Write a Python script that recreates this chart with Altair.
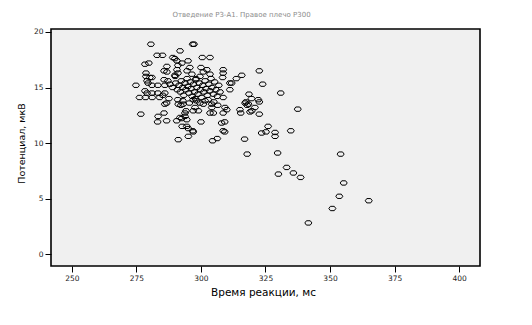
import altair as alt
import pandas as pd

# Время реакции (мс)
xs = [
    322.6, 323.9, 330.9, 337.5, 334.8, 328.7, 328.7, 326.0, 323.5, 325.2, 316.9, 317.9, 329.7,
    333.2, 330.0, 335.8, 338.6, 354.1, 355.3, 353.6, 365.0, 350.9, 341.6,
    313.7, 315.8, 311.2, 311.9, 311.2, 317.4, 318.6, 319.6, 322.6, 322.6, 319.0, 315.4, 309.2, 309.2, 317.9,
    315.1, 317.1, 318.4, 319.7, 320.9, 322.2,
    308.6, 308.6, 308.4, 300.5, 303.5, 295.7, 300.9, 303.5, 299.6, 298.1, 296.8, 297.3,
    280.6, 283.0, 285.1, 291.9, 289.1, 289.9, 290.7, 295.0, 278.3, 279.8, 286.8, 286.8, 285.7,
    292.6, 291.1, 290.7, 291.1, 289.9, 294.6, 278.7, 278.7, 280.2, 281.0, 285.7, 287.2, 279.1,
    279.5, 274.8, 281.0, 283.3, 286.0, 288.0, 278.3, 279.1, 281.0, 283.3, 286.0,
    276.2, 278.5, 281.1, 284.0, 285.2, 287.6,
    276.7, 283.4, 285.7, 283.2, 286.7, 286.0, 286.7, 290.6, 291.9, 292.5, 293.8, 294.5, 291.2,
    292.2, 293.1, 292.7, 294.5, 295.1, 297.0, 295.1, 291.2, 293.8, 294.2, 297.0,
    300.0, 296.8, 308.0, 308.6, 304.5, 306.3,
    297.0, 298.3, 299.6, 300.9, 297.7, 299.0, 301.6, 304.2, 304.2, 304.8, 303.5, 308.6, 309.3, 310.0, 308.6,
    289.0, 290.2, 290.8, 291.5, 292.0, 292.4, 292.9, 293.3, 293.8, 294.1, 294.6, 295.0, 295.3,
    295.9, 296.2, 296.6, 297.1, 297.5, 298.0, 298.4, 298.8, 299.3, 299.8, 300.2, 300.7, 301.1,
    301.6, 302.0, 302.5, 303.0, 303.4, 303.9, 304.3, 304.8, 305.3, 305.8, 306.3, 306.9, 307.4,
    291.0, 293.0, 295.5, 297.8, 302.8, 305.0, 306.5, 290.0, 296.5, 300.0, 302.3,
]
# Потенциал (мкВ)
ys = [
    16.5, 15.3, 14.5, 13.05, 11.1, 10.95, 10.6, 11.5, 10.9, 11.0, 10.35, 9.0, 9.1,
    7.8, 7.2, 7.3, 6.9, 9.0, 6.4, 5.2, 4.8, 4.1, 2.8,
    15.8, 16.1, 15.4, 15.4, 14.8, 13.7, 14.4, 14.0, 13.7, 12.6, 12.8, 12.7, 11.9, 11.0, 13.4,
    13.0, 13.6, 13.5, 12.9, 13.2, 13.9,
    16.6, 16.3, 15.9, 17.7, 17.7, 16.8, 16.4, 16.2, 16.0, 15.8, 18.9, 18.9,
    18.9, 17.9, 17.9, 18.3, 17.7, 17.6, 17.4, 17.4, 17.1, 17.2, 16.9, 16.4, 16.5,
    17.2, 17.0, 16.6, 16.3, 16.1, 16.5, 16.3, 16.0, 15.9, 15.9, 15.7, 15.6, 15.6,
    15.4, 15.2, 15.2, 15.2, 15.2, 15.3, 14.7, 14.5, 14.5, 14.5, 14.5,
    14.1, 14.1, 14.1, 14.1, 14.3, 14.0,
    12.6, 12.4, 12.7, 11.9, 12.0, 13.5, 13.6, 12.0, 12.3, 12.2, 12.4, 12.1, 13.5,
    13.4, 13.5, 11.5, 11.5, 11.3, 11.0, 10.6, 10.3, 12.7, 12.9, 12.9,
    11.9, 11.1, 11.8, 11.1, 10.2, 10.4,
    13.9, 13.8, 13.6, 13.5, 13.2, 12.9, 13.8, 13.5, 13.2, 12.7, 12.7, 14.1, 13.2, 13.0, 12.7,
    15.0, 15.4, 14.8, 15.2, 14.6, 15.6, 15.0, 14.3, 15.4, 14.8, 15.8, 15.1, 14.5,
    15.5, 14.9, 14.2, 15.3, 14.6, 15.7, 15.0, 14.4, 15.4, 14.8, 14.1, 15.2, 14.6,
    15.6, 14.9, 14.3, 15.3, 14.7, 15.8, 15.0, 14.4, 15.5, 14.8, 14.2, 15.2, 14.6,
    13.9, 13.8, 13.6, 14.0, 13.9, 13.7, 13.4, 16.0, 16.2, 16.8, 16.6,
]
x_ticks = [250, 275, 300, 325, 350, 375, 400]
y_ticks = [0, 5, 10, 15, 20]

df = pd.DataFrame({"x": xs, "y": ys})

marker = "M-1,0L-0.55,-0.62L0.55,-0.62L1,0L0.55,0.62L-0.55,0.62Z"

chart = alt.Chart(df).mark_point(
    shape=marker, size=49, filled=False, stroke="black", strokeWidth=1, opacity=1
).encode(
    x=alt.X("x:Q", scale=alt.Scale(domain=[241.9, 408.1], nice=False, zero=False),
            axis=alt.Axis(values=x_ticks, title="Время реакции, мс", grid=False,
                          titleX=212, titleY=26, titleBaseline="middle", titleAlign="center")),
    y=alt.Y("y:Q", scale=alt.Scale(domain=[-1.08, 20.27], nice=False, zero=False),
            axis=alt.Axis(values=y_ticks, title="Потенциал, мкВ", grid=False,
                          titleX=-30, titleY=114, titleAngle=-90, titleFontSize=9.5,
                          titleBaseline="middle", titleAlign="center")),
).properties(
    width=429, height=237,
    title=alt.TitleParams("Отведение Р3-А1. Правое плечо Р300", fontSize=7, color="#8c8c8c",
                          font="DejaVu Sans", fontWeight="normal", anchor="middle",
                          dx=-24, offset=10),
    autosize=alt.AutoSizeParams(type="none"),
    padding={"left": 51, "top": 29, "right": 52, "bottom": 59},
    background="white",
).configure_view(
    fill="#f0f0f0", stroke="black", strokeWidth=1.6
).configure_axis(
    domain=False, ticks=True, tickColor="black", tickSize=6, tickWidth=1,
    labelFont="DejaVu Sans", labelFontSize=7.5, labelColor="#222", labelPadding=2,
    titleFont="DejaVu Sans", titleFontSize=10.5, titleFontWeight="normal", titleColor="black",
)

chart.save("out.html", embed_options={"renderer": "svg", "actions": False})
